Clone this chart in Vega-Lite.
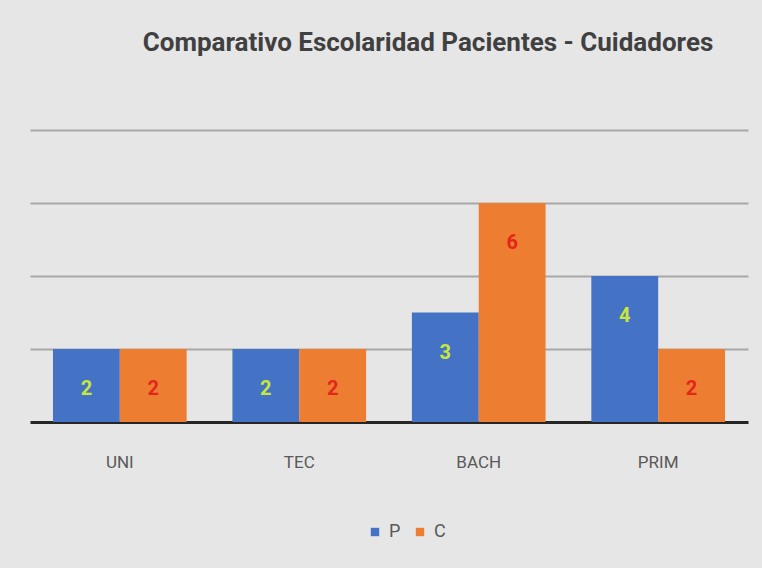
{
  "$schema": "https://vega.github.io/schema/vega-lite/v6.json",
  "width": 718,
  "height": 292,
  "padding": {"left": 30, "top": 30, "right": 14, "bottom": 30},
  "background": "#e6e6e6",
  "config": {
    "font": "Roboto, sans-serif",
    "view": {"stroke": null}
  },
  "title": {
    "text": "Comparativo Escolaridad Pacientes - Cuidadores",
    "fontSize": 26,
    "fontWeight": "bold",
    "color": "#404040",
    "anchor": "middle",
    "dx": 39,
    "offset": 74
  },
  "data": {
    "values": [
      {"nivel": "UNI", "grupo": "P", "valor": 2},
      {"nivel": "UNI", "grupo": "C", "valor": 2},
      {"nivel": "TEC", "grupo": "P", "valor": 2},
      {"nivel": "TEC", "grupo": "C", "valor": 2},
      {"nivel": "BACH", "grupo": "P", "valor": 3},
      {"nivel": "BACH", "grupo": "C", "valor": 6},
      {"nivel": "PRIM", "grupo": "P", "valor": 4},
      {"nivel": "PRIM", "grupo": "C", "valor": 2}
    ]
  },
  "encoding": {
    "x": {
      "field": "nivel",
      "type": "nominal",
      "sort": ["UNI", "TEC", "BACH", "PRIM"],
      "scale": {"paddingInner": 0.255, "paddingOuter": 0.128},
      "axis": {
        "title": null,
        "labelAngle": 0,
        "labelFontSize": 17,
        "labelColor": "#595959",
        "labelPadding": 32,
        "ticks": false,
        "domainColor": "#262626",
        "domainWidth": 3
      }
    },
    "xOffset": {
      "field": "grupo",
      "sort": ["P", "C"],
      "scale": {"paddingInner": 0, "paddingOuter": 0}
    },
    "y": {
      "field": "valor",
      "type": "quantitative",
      "scale": {"domain": [0, 8]},
      "axis": {
        "title": null,
        "values": [2, 4, 6, 8],
        "labels": false,
        "ticks": false,
        "domain": false,
        "grid": true,
        "gridColor": "#a8a8a8",
        "gridWidth": 2
      }
    }
  },
  "layer": [
    {
      "mark": {"type": "bar"},
      "encoding": {
        "color": {
          "field": "grupo",
          "type": "nominal",
          "sort": ["P", "C"],
          "scale": {"domain": ["P", "C"], "range": ["#4472C4", "#ED7D31"]},
          "legend": {
            "title": null,
            "orient": "none",
            "legendX": 336,
            "legendY": 393,
            "direction": "horizontal",
            "labelFontSize": 18,
            "labelColor": "#595959",
            "symbolType": "square",
            "symbolSize": 70,
            "labelOffset": 5,
            "columnPadding": 10
          }
        }
      }
    },
    {
      "mark": {"type": "text", "dy": 40, "fontSize": 20, "fontWeight": "bold", "baseline": "middle"},
      "encoding": {
        "text": {"field": "valor", "type": "quantitative"},
        "color": {
          "condition": {"test": "datum.grupo === 'P'", "value": "#c8e63c"},
          "value": "#e3261b"
        }
      }
    }
  ]
}
